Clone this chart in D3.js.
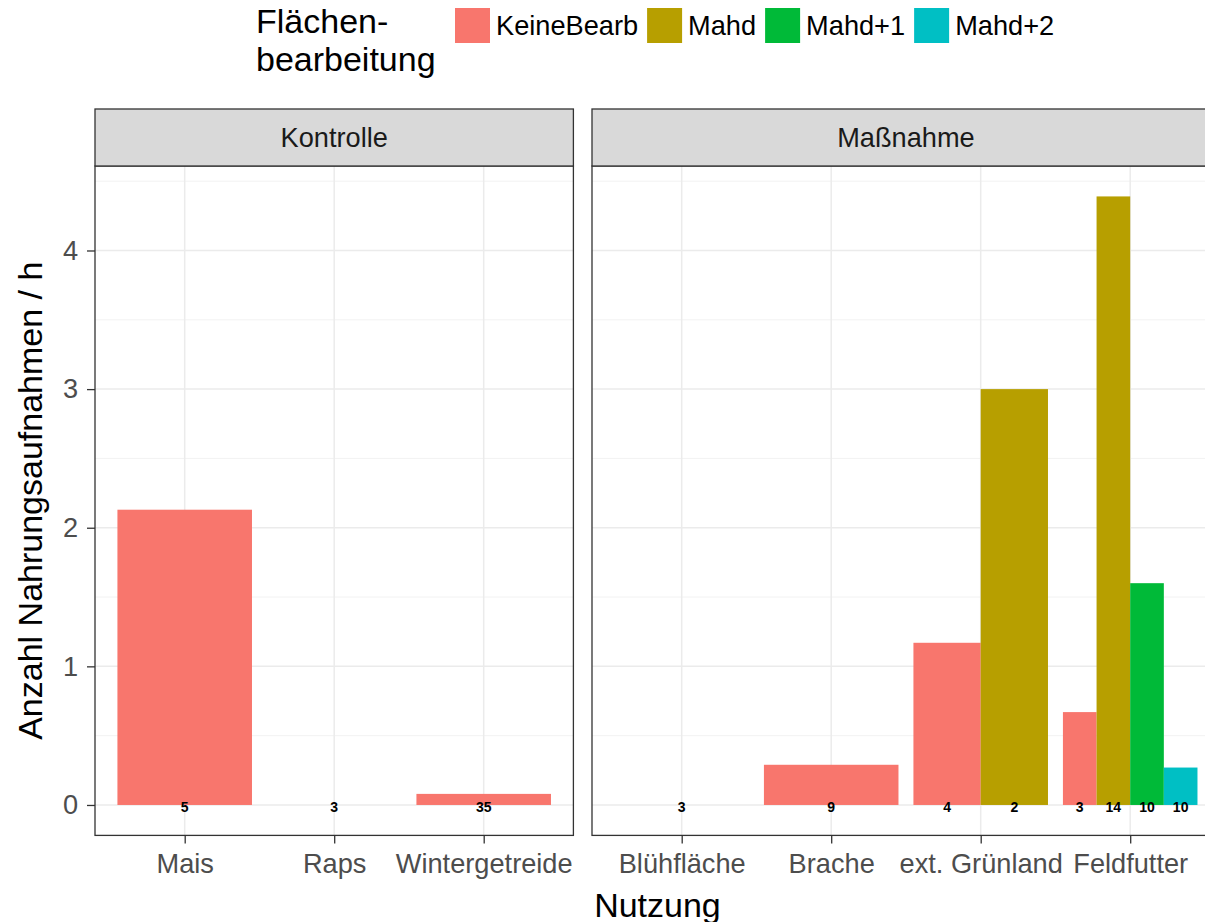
<!DOCTYPE html>
<html>
<head>
<meta charset="utf-8">
<script src="https://cdn.jsdelivr.net/npm/d3@7"></script>
<style>
  body { margin: 0; background: #fff; overflow: hidden; }
  text { font-family: "Liberation Sans", Arial, sans-serif; }
</style>
</head>
<body>
<svg id="chart" width="1205" height="922"></svg>
<script>
// Data
var facets = ["Kontrolle", "Maßnahme"];
var nutzungKontrolle = ["Mais", "Raps", "Wintergetreide"];
var nutzungMassnahme = ["Blühfläche", "Brache", "ext. Grünland", "Feldfutter"];
var bearbeitung = ["KeineBearb", "Mahd", "Mahd+1", "Mahd+2"];
var bearbColours = ["#F8766D", "#B79F00", "#00BA38", "#00BFC4"];

// one entry per bar (value = Nahrungsaufnahmen / h, n = sample count label)
var barFacet   = ["Kontrolle", "Kontrolle", "Kontrolle", "Maßnahme", "Maßnahme", "Maßnahme", "Maßnahme", "Maßnahme", "Maßnahme", "Maßnahme", "Maßnahme"];
var barNutzung = ["Mais", "Raps", "Wintergetreide", "Blühfläche", "Brache", "ext. Grünland", "ext. Grünland", "Feldfutter", "Feldfutter", "Feldfutter", "Feldfutter"];
var barBearb   = ["KeineBearb", "KeineBearb", "KeineBearb", "KeineBearb", "KeineBearb", "KeineBearb", "Mahd", "KeineBearb", "Mahd", "Mahd+1", "Mahd+2"];
var barRate    = [2.13, 0, 0.08, 0, 0.29, 1.17, 3.0, 0.67, 4.39, 1.60, 0.27];
var barN       = [5, 3, 35, 3, 9, 4, 2, 3, 14, 10, 10];
var yTicks = [0, 1, 2, 3, 4];
var yMinor = [0.5, 1.5, 2.5, 3.5, 4.5];

// Layout
var panelTop = 166, panelBottom = 835.4,
    stripTop = 109,
    unit = 149.5,            // px per discrete x step
    baseSize = 34,
    font = "\"Liberation Sans\", Arial, sans-serif";

var panels = [
  { name: facets[0], cats: nutzungKontrolle, left: 95 },
  { name: facets[1], cats: nutzungMassnahme, left: 592 }
];
panels.forEach(function(p) {
  p.right = p.left + unit * (p.cats.length - 1 + 1.2);
  p.x = d3.scalePoint().domain(p.cats).range([p.left, p.right]).padding(0.6);
});

var bars = barRate.map(function(v, i) {
  return { facet: barFacet[i], nutzung: barNutzung[i], group: barBearb[i], value: v, n: barN[i] };
});

var yMax = d3.max(bars, d => d.value),
    pad = 0.05 * yMax;
var y = d3.scaleLinear()
  .domain([-pad, yMax + pad])
  .range([panelBottom, panelTop]);

var colour = d3.scaleOrdinal().domain(bearbeitung).range(bearbColours);

var svg = d3.select("#chart");

panels.forEach(function(p) {
  var g = svg.append("g");
  var w = p.right - p.left;

  // panel background + grid
  g.append("rect")
    .attr("x", p.left).attr("y", panelTop)
    .attr("width", w).attr("height", panelBottom - panelTop)
    .attr("fill", "#fff");

  g.selectAll(".minor").data(yMinor).enter().append("line")
    .attr("x1", p.left).attr("x2", p.right)
    .attr("y1", d => y(d)).attr("y2", d => y(d))
    .attr("stroke", "#F2F2F2").attr("stroke-width", 1);
  g.selectAll(".major").data(yTicks).enter().append("line")
    .attr("x1", p.left).attr("x2", p.right)
    .attr("y1", d => y(d)).attr("y2", d => y(d))
    .attr("stroke", "#EBEBEB").attr("stroke-width", 1.5);
  g.selectAll(".vmajor").data(p.cats).enter().append("line")
    .attr("x1", d => p.x(d)).attr("x2", d => p.x(d))
    .attr("y1", panelTop).attr("y2", panelBottom)
    .attr("stroke", "#EBEBEB").attr("stroke-width", 1.5);

  // bars, dodged within each category
  var mine = bars.filter(d => d.facet === p.name);
  var byCat = d3.group(mine, d => d.nutzung);
  var labelData = [];
  byCat.forEach(function(rows, cat) {
    var dodge = d3.scaleBand()
      .domain(rows.map(r => r.group))
      .range([p.x(cat) - 0.45 * unit, p.x(cat) + 0.45 * unit]);
    rows.forEach(function(r) {
      labelData.push({ r: r, x0: dodge(r.group), bw: dodge.bandwidth() });
    });
  });

  g.selectAll(".bar").data(labelData).enter().append("rect")
    .attr("x", d => d.x0)
    .attr("y", d => y(Math.max(0, d.r.value)))
    .attr("width", d => d.bw)
    .attr("height", d => Math.abs(y(0) - y(d.r.value)))
    .attr("fill", d => colour(d.r.group));

  g.selectAll(".nlab").data(labelData).enter().append("text")
    .attr("x", d => d.x0 + d.bw / 2)
    .attr("y", y(0) + 7)
    .attr("text-anchor", "middle")
    .style("font-size", "14px")
    .style("font-weight", "bold")
    .attr("fill", "#000")
    .text(d => d.r.n);

  // panel border
  g.append("rect")
    .attr("x", p.left).attr("y", panelTop)
    .attr("width", w).attr("height", panelBottom - panelTop)
    .attr("fill", "none").attr("stroke", "#333333").attr("stroke-width", 1.3);

  // strip
  g.append("rect")
    .attr("x", p.left).attr("y", stripTop)
    .attr("width", w).attr("height", panelTop - stripTop)
    .attr("fill", "#D9D9D9").attr("stroke", "#333333").attr("stroke-width", 1.3);
  g.append("text")
    .attr("x", p.left + w / 2)
    .attr("y", (stripTop + panelTop) / 2)
    .attr("dy", "0.35em")
    .attr("text-anchor", "middle")
    .style("font-size", (0.8 * baseSize) + "px")
    .attr("fill", "#1A1A1A")
    .text(p.name);

  // x axis
  var xAxis = g.append("g")
    .attr("transform", "translate(0," + panelBottom + ")")
    .call(d3.axisBottom(p.x).tickSize(8).tickPadding(10));
  xAxis.select(".domain").remove();
  xAxis.selectAll("line").attr("stroke", "#333333").attr("stroke-width", 1.3);
  xAxis.selectAll("text")
    .style("font-family", font)
    .style("font-size", (0.8 * baseSize) + "px")
    .attr("fill", "#4D4D4D");
});

// y axis on the left panel only
var yAxis = svg.append("g")
  .attr("transform", "translate(" + panels[0].left + ",0)")
  .call(d3.axisLeft(y).tickValues(yTicks).tickFormat(d3.format("d")).tickSize(8).tickPadding(9));
yAxis.select(".domain").remove();
yAxis.selectAll("line").attr("stroke", "#333333").attr("stroke-width", 1.3);
yAxis.selectAll("text")
  .style("font-family", font)
  .style("font-size", (0.8 * baseSize) + "px")
  .attr("fill", "#4D4D4D");

// axis titles
svg.append("text")
  .attr("x", (panels[0].left + panels[1].right) / 2)
  .attr("y", 916.5)
  .attr("text-anchor", "middle")
  .style("font-size", baseSize + "px")
  .attr("fill", "#000")
  .text("Nutzung");

svg.append("text")
  .attr("transform", "translate(42," + (panelTop + panelBottom) / 2 + ") rotate(-90)")
  .attr("text-anchor", "middle")
  .style("font-size", baseSize + "px")
  .attr("fill", "#000")
  .text("Anzahl Nahrungsaufnahmen / h");

// legend on top
var legend = svg.append("g");
legend.append("text")
  .attr("x", 256).attr("y", 33)
  .style("font-size", baseSize + "px")
  .selectAll("tspan").data(["Flächen-", "bearbeitung"]).enter().append("tspan")
    .attr("x", 256)
    .attr("dy", (d, i) => i === 0 ? 0 : 38)
    .text(d => d);

var keyX = 455, keySize = 35, keyTop = 8;
bearbeitung.forEach(function(b) {
  legend.append("rect")
    .attr("x", keyX).attr("y", keyTop)
    .attr("width", keySize).attr("height", keySize)
    .attr("fill", colour(b));
  var t = legend.append("text")
    .attr("x", keyX + keySize + 6)
    .attr("y", keyTop + keySize / 2)
    .attr("dy", "0.35em")
    .style("font-size", (0.8 * baseSize) + "px")
    .attr("fill", "#000")
    .text(b);
  keyX = keyX + keySize + 6 + t.node().getComputedTextLength() + 9;
});
</script>
</body>
</html>
